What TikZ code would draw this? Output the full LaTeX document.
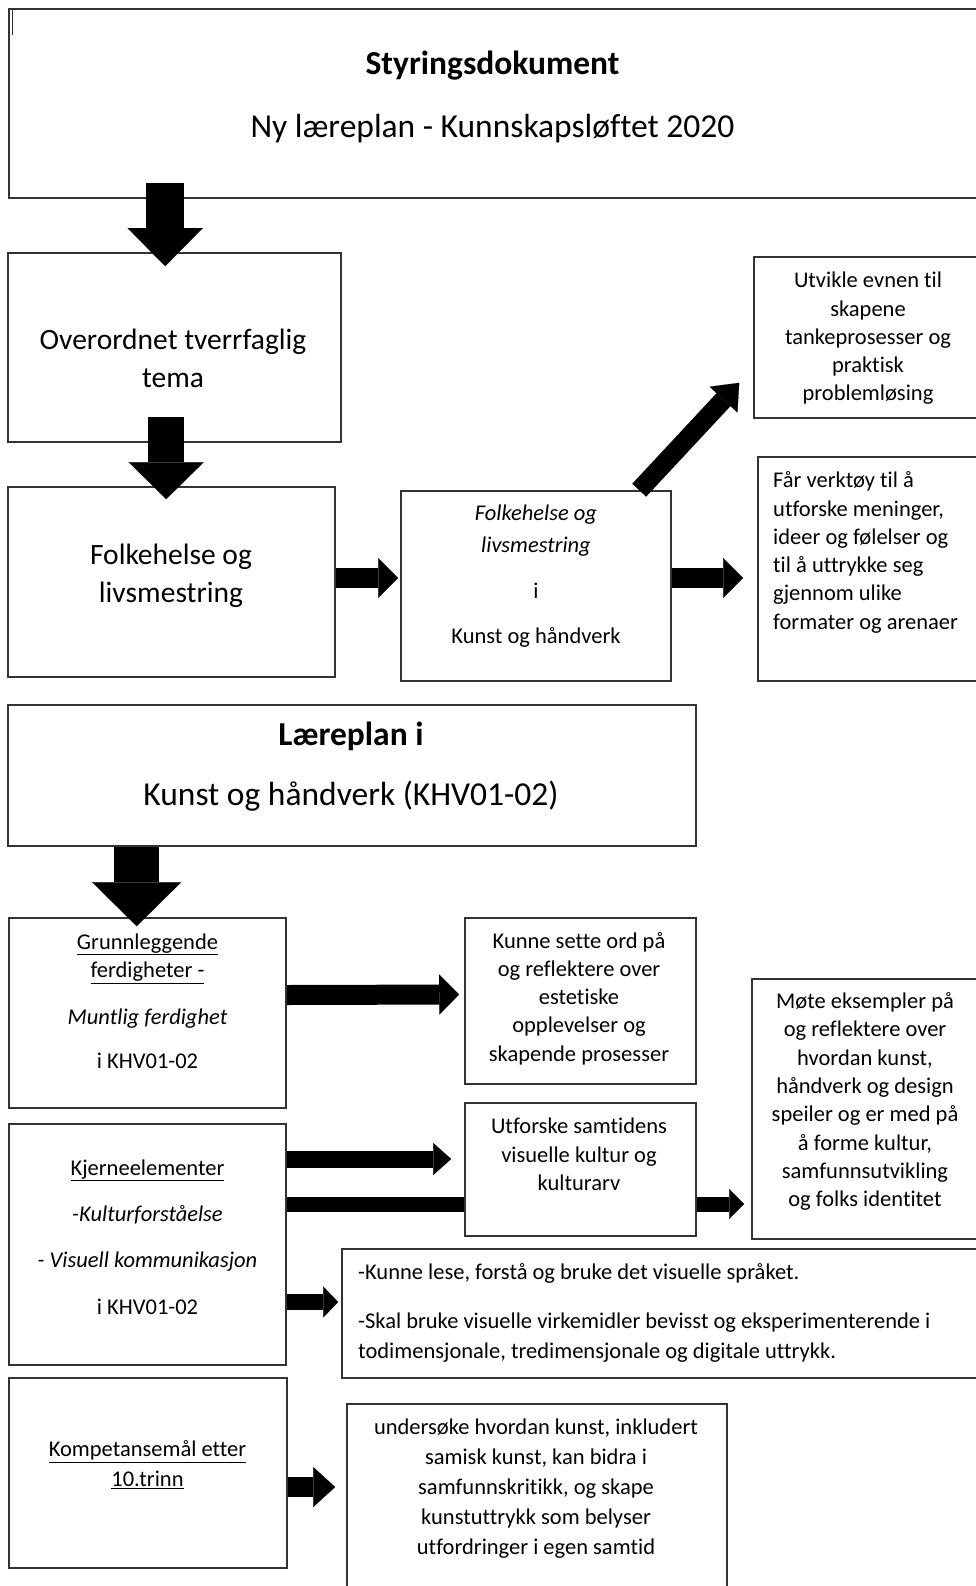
\documentclass[tikz,border=0pt]{standalone}
\usepackage{fontspec}
\setmainfont[Ligatures=NoCommon]{Carlito}
\usetikzlibrary{arrows.meta}
\tikzstyle{box} = [draw=black!80, line width=1.6pt, rectangle, inner sep=0pt]
\tikzstyle{titletext} = [font=\fontsize{33.5}{42}\selectfont, align=center, inner sep=0pt]
\tikzstyle{bigtext} = [font=\fontsize{29.5}{37.5}\selectfont, align=center, inner sep=0pt]
\tikzstyle{smalltext} = [font=\fontsize{22.5}{28.3}\selectfont, align=center, inner sep=0pt]
\tikzstyle{downarrow} = [draw, line width=38pt, -{Triangle[length=38pt,width=75pt,line width=0.1pt]}]
\tikzstyle{sidearrow} = [draw, line width=20pt, -{Triangle[length=20pt,width=40pt,line width=0.1pt]}]
\tikzstyle{thinarrow} = [draw, line width=16pt, -{Triangle[length=18pt,width=32pt,line width=0.1pt]}]

\begin{document}
\begin{tikzpicture}[x=1pt, y=-1pt]
\useasboundingbox (0,0) rectangle (976,1586);
\clip (0,0) rectangle (976,1586);

    % boxes
    \foreach \pos/\w/\h/\name in {{(497,103.5)/976/189/styring},{(174.5,347.5)/333/189/overordnet},
        {(171.5,582)/327/190/folkehelse},{(536,586)/270/190/kunstfh},{(869.5,337.5)/231/161/utvikle},
        {(871.5,569)/227/224/verktoy},{(352,775.5)/688/141/laereplan},{(147.5,1013)/277/190/grunn},
        {(580.5,1001)/231/166/ord},{(868.5,1109)/233/260/mote},{(147.5,1244.5)/277/241/kjerne},
        {(663.5,1313.5)/643/129/visuell},{(148,1473)/278/190/kompetanse},{(537,1502)/380/196/samisk}}
        \node[box, minimum width=\w pt, minimum height=\h pt] (\name) at \pos {};

    \draw[line width=1pt, black!80] (12,10) -- (12,35);

    % texts
    \node[titletext] (styringtxt) at (492.5,96.5) {\textbf{Styringsdokument}\\[21pt]Ny læreplan - Kunnskapsløftet 2020};
    \node[bigtext] (overtxt) at (173,358.5) {Overordnet tverrfaglig\\tema};
    \node[bigtext] (folktxt) at (171,576) {Folkehelse og\\livsmestring};
    \node[smalltext, font=\fontsize{22.5}{32}\selectfont] (kunstfhtxt) at (536,576.5)
        {\textit{Folkehelse og}\\\textit{livsmestring}\\[14pt]i\\[13pt]Kunst og håndverk};
    \node[smalltext] (utvikletxt) at (868,338.5) {Utvikle evnen til\\skapene\\tankeprosesser og\\praktisk\\problemløsing};
    \node[smalltext, align=left, anchor=west] (verktoytxt) at (773,552.5)
        {Får verktøy til å\\utforske meninger,\\ideer og følelser og\\til å uttrykke seg\\gjennom ulike\\formater og arenaer};
    \node[titletext] (laereplantxt) at (351,767) {\textbf{Læreplan i}\\[18pt]Kunst og håndverk (KHV01-02)};
    \node[smalltext] (grunntxt) at (147.5,1001)
        {\underline{Grunnleggende}\\\underline{ferdigheter -}\\[19pt]\textit{Muntlig ferdighet}\\[15pt]i KHV01-02};
    \node[smalltext] (ordtxt) at (579,998.5)
        {Kunne sette ord på\\og reflektere over\\estetiske\\opplevelser og\\skapende prosesser};
    \node[smalltext] (motetxt) at (865,1101.5)
        {Møte eksempler på\\og reflektere over\\hvordan kunst,\\håndverk og design\\speiler og er med på\\å forme kultur,\\samfunnsutvikling\\og folks identitet};
    \node[smalltext] (kjernetxt) at (147.5,1237)
        {\underline{Kjerneelementer}\\[18pt]\textit{-Kulturforståelse}\\[18pt]\textit{- Visuell kommunikasjon}\\[18pt]i KHV01-02};
    \node[smalltext, font=\fontsize{22.5}{30}\selectfont, align=left, anchor=west] (visuelltxt) at (358,1312.5)
        {-Kunne lese, forstå og bruke det visuelle språket.\\[19pt]-Skal bruke visuelle virkemidler bevisst og eksperimenterende i\\todimensjonale, tredimensjonale og digitale uttrykk.};
    \node[smalltext, font=\fontsize{22.5}{30}\selectfont] (kompetansetxt) at (147.5,1465)
        {\underline{Kompetansemål etter}\\\underline{10.trinn}};
    \node[smalltext, font=\fontsize{22.5}{30}\selectfont] (samisktxt) at (536,1489)
        {undersøke hvordan kunst, inkludert\\samisk kunst, kan bidra i\\samfunnskritikk, og skape\\kunstuttrykk som belyser\\utfordringer i egen samtid};

    % Connect boxes with arrows
    \path[downarrow] ([xshift=157pt,yshift=16pt]styring.south west) -- ([xshift=158pt,yshift=-14pt]overordnet.north west);
    \path[downarrow, line width=36pt, -{Triangle[length=37pt,width=75pt,line width=0.1pt]}]
        ([xshift=159pt,yshift=26pt]overordnet.south west) -- ([xshift=159pt,yshift=-13pt]folkehelse.north west);
    \path[draw, line width=45pt, -{Triangle[length=44pt,width=89pt,line width=0.1pt]}]
        ([xshift=129.5pt]laereplan.south west) -- ([xshift=128.5pt,yshift=-9pt]grunn.north west);
    \path[sidearrow] ([yshift=4pt]folkehelse.east) -- ([xshift=-2pt,yshift=8pt]kunstfh.west);
    \path[sidearrow] ([yshift=8pt]kunstfh.east) -- ([xshift=-14pt,yshift=-9pt]verktoy.west);
    \path[sidearrow] ([yshift=18pt]grunn.east) -- ([xshift=-5pt,yshift=6.5pt]ord.west);
    \path[sidearrow, line width=19pt, -{Triangle[length=23pt,width=38pt,line width=0.1pt]}]
        ([xshift=239pt]kunstfh.north west) -- ([xshift=-14pt,yshift=36pt]utvikle.south west);
    \path[thinarrow, line width=15pt, -{Triangle[length=15pt,width=30pt,line width=0.1pt]}]
        ([yshift=40.5pt]kjerne.east) -- ([xshift=-7pt,yshift=-95pt]mote.west);

    \node[box, fill=white, minimum width=231pt, minimum height=133pt] (samtid) at (580.5,1169.5) {};
    \node[smalltext] (samtidtxt) at (579,1154.5) {Utforske samtidens\\visuelle kultur og\\kulturarv};

    \path[thinarrow, line width=17pt] ([yshift=85.5pt]kjerne.east) -- ([xshift=-13pt,yshift=10.5pt]samtid.west);
    \path[thinarrow, -{Triangle[length=15pt,width=31pt,line width=0.1pt]}]
        ([yshift=-57.5pt]kjerne.east) -- ([xshift=-3pt,yshift=11.5pt]visuell.west);
    \path[sidearrow, -{Triangle[length=22pt,width=40pt,line width=0.1pt]}] ([yshift=-14pt]kompetanse.east) -- ([xshift=-11pt,yshift=15pt]samisk.west);

\end{tikzpicture}
\end{document}
